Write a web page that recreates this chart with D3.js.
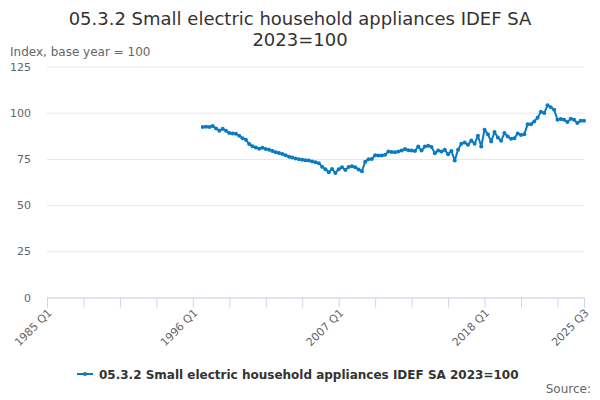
<!DOCTYPE html>
<html>
<head>
<meta charset="utf-8">
<script src="https://cdn.jsdelivr.net/npm/d3@7"></script>
<style>
  body { margin: 0; background: #fff; }
  svg { font-family: "DejaVu Sans", sans-serif; }
</style>
</head>
<body>
<script>
// quarters on the category axis, 1985 Q1 .. 2025 Q3
var firstYear = 1985, lastYear = 2025, lastQuarter = 3;
var quarters = [];
for (var yr = firstYear; yr <= lastYear; yr++) {
  for (var q = 1; q <= 4; q++) {
    if (yr == lastYear && q > lastQuarter) break;
    quarters.push(yr + " Q" + q);
  }
}

// series starts in 1996 Q4
var seriesStart = "1996 Q4";
var values = [
  92.2, 92.4, 92.3, 92.8, 91.5, 90.2, 91.3, 90.3, 89.0, 88.8, 88.6, 87.5, 86.2, 85.3, 83.0, 81.8,
  81.2, 80.5, 81.0, 80.4, 80.0, 79.3, 78.6, 78.2, 77.6, 77.0, 76.2, 75.7, 75.2, 74.8, 74.6, 74.3,
  74.1, 73.6, 73.2, 72.7, 70.8, 69.4, 67.8, 69.6, 67.4, 69.4, 70.5, 69.0, 70.6, 71.0, 70.5, 69.3,
  68.3, 73.5, 74.8, 75.0, 77.0, 76.9, 76.8, 77.2, 79.0, 78.8, 78.6, 79.0, 79.5, 80.3, 79.7, 79.5,
  79.3, 81.7, 79.5, 81.7, 82.1, 81.5, 78.1, 79.5, 79.0, 79.9, 77.5, 79.3, 74.1, 79.9, 83.2, 83.9,
  82.6, 85.0, 83.2, 87.5, 81.7, 90.8, 88.4, 84.4, 89.5, 86.6, 84.8, 89.0, 87.1, 85.9, 86.2, 88.8,
  88.0, 88.4, 93.8, 93.8, 95.3, 97.3, 100.5, 99.8, 104.0, 102.9, 101.6, 96.2, 96.6, 96.2, 94.9, 96.7,
  96.2, 94.4, 95.7, 95.7
];

var yTicks = [0, 25, 50, 75, 100, 125];
var xTickLabels = ["1985 Q1", "1996 Q1", "2007 Q1", "2018 Q1", "2025 Q3"];
var xTickEvery = 11;

var titleLines = ["05.3.2 Small electric household appliances IDEF SA", "2023=100"];
var yTitle = "Index, base year = 100";
var seriesName = "05.3.2 Small electric household appliances IDEF SA 2023=100";

var width = 600, height = 400;
var margin = {left: 47, right: 16, top: 66.5, bottom: 102.5};
var lineColor = "#0b7bc1";

var startIdx = quarters.indexOf(seriesStart);
var data = values.map(function(v, i){ return {q: quarters[startIdx + i], v: v}; });

var x = d3.scalePoint()
    .domain(quarters)
    .range([margin.left, width - margin.right]);

var y = d3.scaleLinear()
    .domain([0, 125])
    .range([height - margin.bottom, margin.top]);

var svg = d3.select("body").append("svg")
    .attr("width", width)
    .attr("height", height);

// title
svg.append("text")
    .attr("x", width / 2)
    .attr("text-anchor", "middle")
    .attr("fill", "#333333")
    .style("font-size", "18px")
    .selectAll("tspan")
    .data(titleLines)
    .enter().append("tspan")
    .attr("x", width / 2)
    .attr("y", function(d, i){ return 25 + i * 20.5; })
    .text(function(d){ return d; });

svg.append("text")
    .attr("x", 10)
    .attr("y", 56)
    .attr("fill", "#666666")
    .style("font-size", "12px")
    .text(yTitle);

// gridlines + y labels
var yAxis = d3.axisLeft(y).tickValues(yTicks).tickSize(-(width - margin.left - margin.right)).tickPadding(16);
var gy = svg.append("g")
    .attr("transform", "translate(" + margin.left + ",0)")
    .call(yAxis);
gy.select(".domain").remove();
gy.selectAll(".tick line").attr("stroke", "#e6e6e6");
gy.selectAll(".tick text")
    .attr("fill", "#666666")
    .style("font-size", "11px")
    .style("font-family", "DejaVu Sans, sans-serif");

// x axis
var tickCats = quarters.filter(function(d, i){ return i % xTickEvery == 0; });
tickCats.push(quarters[quarters.length - 1]);
var xAxis = d3.axisBottom(x)
    .tickValues(tickCats)
    .tickSize(10)
    .tickSizeOuter(0)
    .tickFormat(function(d){ return xTickLabels.indexOf(d) >= 0 ? d : ""; });
var gx = svg.append("g")
    .attr("transform", "translate(0," + (height - margin.bottom) + ")")
    .call(xAxis);
gx.select(".domain").attr("stroke", "#ccd6eb");
gx.selectAll(".tick line").attr("stroke", "#ccd6eb");
gx.selectAll(".tick text")
    .attr("fill", "#666666")
    .style("font-size", "11px")
    .style("font-family", "DejaVu Sans, sans-serif")
    .attr("text-anchor", "end")
    .attr("dy", null)
    .attr("y", 0)
    .attr("transform", "translate(5,16) rotate(-45)");

// series
var line = d3.line()
    .x(function(d){ return x(d.q); })
    .y(function(d){ return y(d.v); });

svg.append("path")
    .datum(data)
    .attr("fill", "none")
    .attr("stroke", lineColor)
    .attr("stroke-width", 2)
    .attr("stroke-linejoin", "round")
    .attr("d", line);

svg.append("g").selectAll("circle")
    .data(data)
    .enter().append("circle")
    .attr("cx", function(d){ return x(d.q); })
    .attr("cy", function(d){ return y(d.v); })
    .attr("r", 2)
    .attr("fill", lineColor);

// legend
var lg = svg.append("g").attr("transform", "translate(77,374)");
lg.append("line")
    .attr("x1", 0).attr("x2", 16)
    .attr("stroke", lineColor).attr("stroke-width", 2);
lg.append("circle").attr("cx", 8).attr("r", 2).attr("fill", lineColor);
lg.append("text")
    .attr("x", 22)
    .attr("y", 4.5)
    .attr("fill", "#333333")
    .style("font-size", "12px")
    .style("font-weight", "bold")
    .text(seriesName);

svg.append("text")
    .attr("x", 591)
    .attr("y", 393)
    .attr("text-anchor", "end")
    .attr("fill", "#666666")
    .style("font-size", "12px")
    .text("Source:");
</script>
</body>
</html>
